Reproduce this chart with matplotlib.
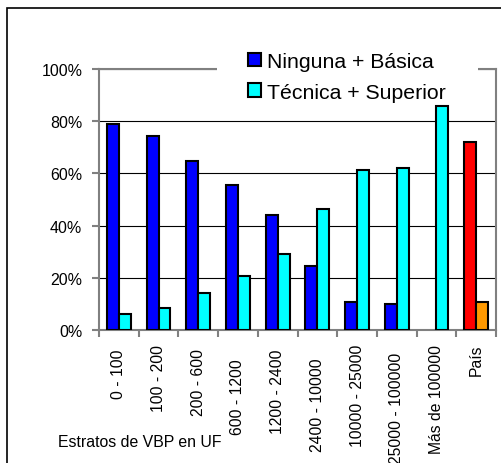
import numpy as np
import matplotlib.pyplot as plt
import matplotlib.transforms as mtransforms
from matplotlib.patches import Rectangle

plt.rcParams['font.family'] = ['Liberation Sans', 'DejaVu Sans']

# Datos
estratos = ['0 - 100', '100 - 200', '200 - 600', '600 - 1200', '1200 - 2400',
            '2400 - 10000', '10000 - 25000', '25000 - 100000', 'Más de 100000', 'País']
ninguna_basica = [78.9, 74.3, 64.9, 55.7, 44.2, 24.6, 10.8, 9.8, 0.0, 72.0]
tecnica_superior = [6.2, 8.5, 14.0, 20.6, 29.2, 46.2, 61.4, 62.0, 85.8, 10.7]

col_nb = ['#0000ff'] * 9 + ['#ff0000']
col_ts = ['#00ffff'] * 9 + ['#ff9900']

# desplazamiento vertical (pt) de las etiquetas, como en el original
label_shift = [3, 0, 3, 10, 3, 10, 0, 6, 0, 0]

W, H = 501, 464
fig = plt.figure(figsize=(W / 100, H / 100), dpi=100)
ax = fig.add_axes([99 / W, 1 - 331 / H, 397 / W, 261 / H])

# marco exterior
fig.patches.append(Rectangle((7 / W, -0.1), 1.2, 1 - 9 / H + 0.1, transform=fig.transFigure,
                             fill=False, edgecolor='black', linewidth=1.2))

x = np.arange(len(estratos))
w = 0.3
for i in x:
    if ninguna_basica[i] > 0:
        ax.bar(i - w / 2, ninguna_basica[i], w, color=col_nb[i], edgecolor='black', linewidth=1.5, zorder=3)
    ax.bar(i + w / 2, tecnica_superior[i], w, color=col_ts[i], edgecolor='black', linewidth=1.5, zorder=3)

ax.set_xlim(-0.5, len(estratos) - 0.5)
ax.set_ylim(0, 100)
ax.set_yticks([0, 20, 40, 60, 80, 100])
ax.set_yticklabels(['0%', '20%', '40%', '60%', '80%', '100%'], fontsize=11.5)
ax.yaxis.grid(True, color='black', linewidth=0.8)
ax.set_axisbelow(True)

ax.set_xticks(x)
ax.set_xticklabels(estratos, rotation=90, fontsize=11.3, va='top')
ax.tick_params(axis='x', length=0, pad=10)
for lab, s in zip(ax.get_xticklabels(), label_shift):
    lab.set_transform(lab.get_transform() + mtransforms.ScaledTranslation(0, -s / 72, fig.dpi_scale_trans))
ax.set_xticks(np.arange(-0.5, len(estratos)), minor=True)
ax.tick_params(axis='x', which='minor', length=5, color='#808080', width=1.5)
ax.tick_params(axis='y', length=5, color='#808080', width=1.5, pad=7)

for s in ax.spines.values():
    s.set_color('#808080')
    s.set_linewidth(1.5)

# fondo blanco de la leyenda sobre el borde superior
ax.add_patch(Rectangle((217 / W, 1 - 104 / H), (478 - 217) / W, 58 / H, transform=fig.transFigure,
                       facecolor='white', edgecolor='none', zorder=4, clip_on=False))

h1 = Rectangle((0, 0), 1, 1, facecolor='#0000ff', edgecolor='black', linewidth=1.5)
h2 = Rectangle((0, 0), 1, 1, facecolor='#00ffff', edgecolor='black', linewidth=1.5)
leg = fig.legend([h1, h2], ['Ninguna + Básica', 'Técnica + Superior'], loc='upper left',
                 bbox_to_anchor=(248 / W, 1 - 53 / H), fontsize=15.3, frameon=False,
                 handlelength=0.62, handleheight=0.62, handletextpad=0.28,
                 borderpad=0, borderaxespad=0, labelspacing=0.55)
leg.set_zorder(5)

fig.text(58 / W, 1 - 443 / H, 'Estratos de VBP en UF', fontsize=11.4, va='center')

fig.savefig('out.png', dpi=100)
